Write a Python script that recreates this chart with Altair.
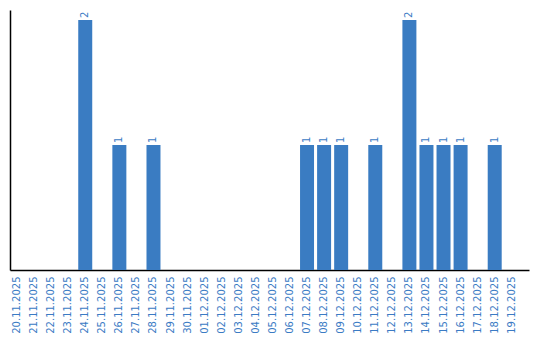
import altair as alt
import pandas as pd

dates = ["20.11.2025", "21.11.2025", "22.11.2025", "23.11.2025", "24.11.2025",
         "25.11.2025", "26.11.2025", "27.11.2025", "28.11.2025", "29.11.2025",
         "30.11.2025", "01.12.2025", "02.12.2025", "03.12.2025", "04.12.2025",
         "05.12.2025", "06.12.2025", "07.12.2025", "08.12.2025", "09.12.2025",
         "10.12.2025", "11.12.2025", "12.12.2025", "13.12.2025", "14.12.2025",
         "15.12.2025", "16.12.2025", "17.12.2025", "18.12.2025", "19.12.2025"]
counts = [0, 0, 0, 0, 2, 0, 1, 0, 1, 0,
          0, 0, 0, 0, 0, 0, 0, 1, 1, 1,
          0, 1, 0, 2, 1, 1, 1, 0, 1, 0]

df = pd.DataFrame({"date": dates, "count": counts})
nz = df[df["count"] > 0]

BLUE = "#3a7cc2"
LBL = "#3b7bc4"

x = alt.X("date:N", sort=dates, title=None,
          scale=alt.Scale(paddingInner=0.18, paddingOuter=0.3, align=0),
          axis=alt.Axis(labelAngle=-90, labelColor=LBL, labelFont="DejaVu Sans",
                        labelFontSize=10, ticks=False, labelPadding=6,
                        domainColor="black", domainWidth=1.5, grid=False,
                        labelBaseline="middle", labelAlign="right"))
y = alt.Y("count:Q", title=None,
          scale=alt.Scale(domain=[0, 2.08], nice=False, zero=True),
          axis=alt.Axis(labels=False, ticks=False, grid=False, domainColor="black",
                        domainWidth=1.5))

bars = alt.Chart(df).mark_bar(color=BLUE).encode(x=x, y=y)
text = alt.Chart(nz).mark_text(angle=270, align="left", baseline="middle", dx=2,
                               color=LBL, font="DejaVu Sans", fontSize=10).encode(
    x=alt.X("date:N", sort=dates), y="count:Q", text="count:Q")

chart = (bars + text).properties(
    width=519, height=260,
    background="white",
    autosize=alt.AutoSizeParams(type="none"),
    padding={"left": 10, "top": 10, "right": 11, "bottom": 70},
).configure_view(strokeWidth=0, stroke="transparent")

chart.save("out.html", embed_options={"renderer": "svg", "actions": False})
